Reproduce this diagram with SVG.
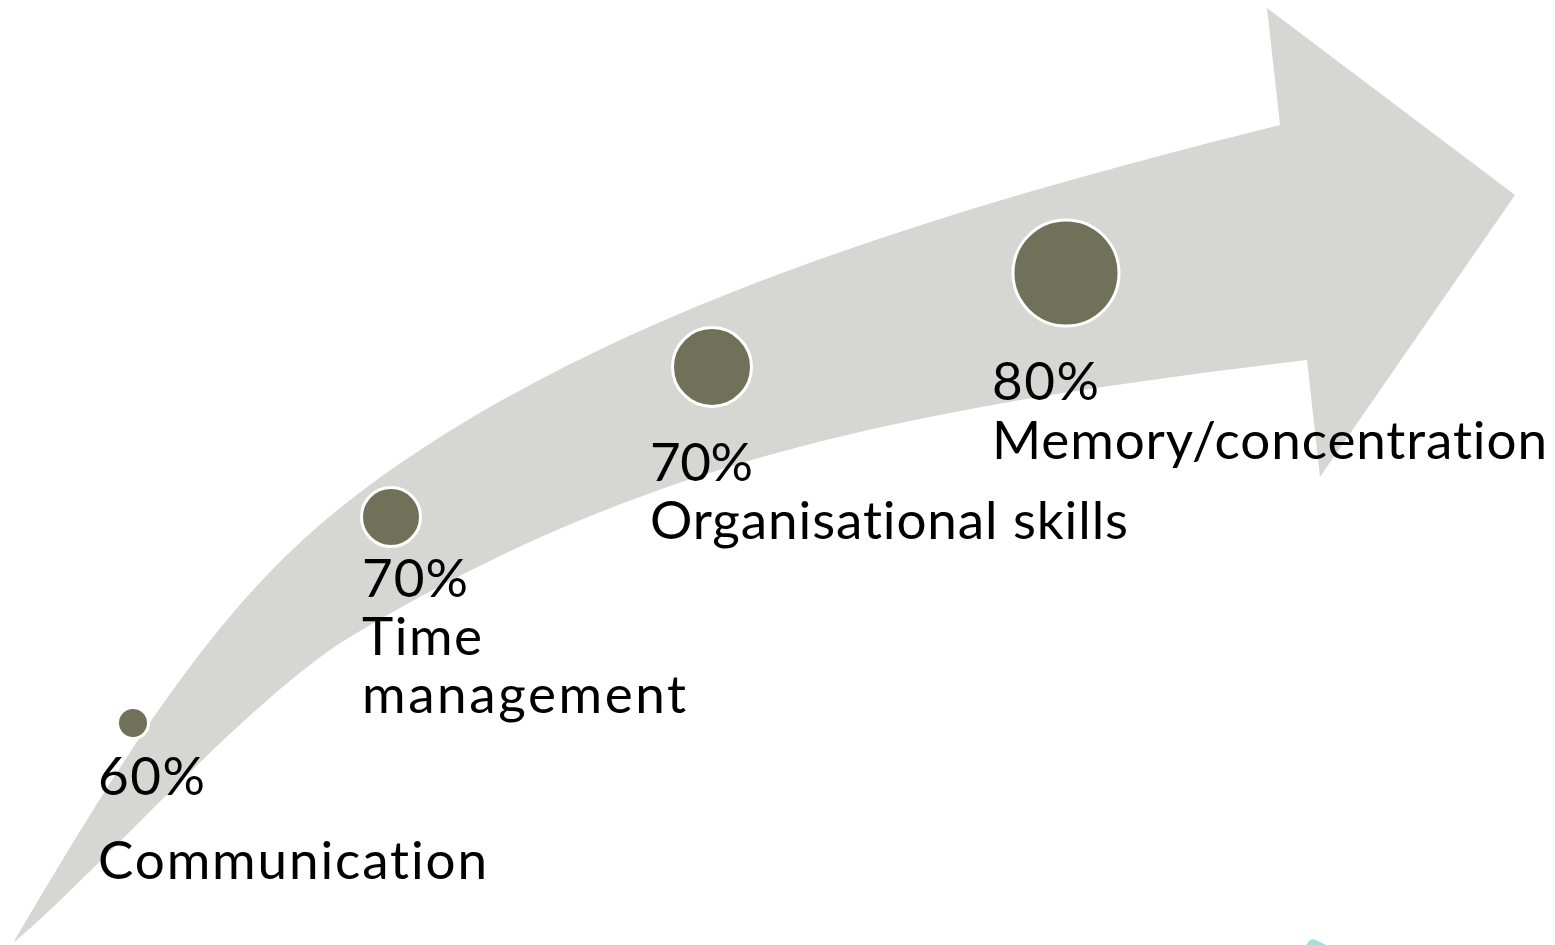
<svg xmlns="http://www.w3.org/2000/svg" width="1555" height="945" viewBox="0 0 1555 945">
  <style>
    .band { fill: #d6d7d2; }
    .dot { fill: #71715a; stroke: #ffffff; stroke-width: 3; }
    .label { font-family: Lato, "Noto Sans", "Liberation Sans", sans-serif; font-size: 53px; fill: #000000; font-variant-ligatures: none; font-feature-settings: "liga" 0, "clig" 0; }
  </style>
  <rect width="1555" height="945" fill="#ffffff"/>

  <!-- curved upward arrow -->
  <g id="arrow">
    <path class="band" d="M13,943
      C133,739 220,604 340,508
      C590,308 980,200 1280,125
      L1267,8 L1515,195 L1320,477 L1307,360
      C907,408 650,457 350,637
      C250,697 90,880 13,943 Z"/>
  </g>

  <!-- small shape peeking in at the bottom edge -->
  <path d="M1306,945 L1309,941 Q1312,938 1316,940 L1326,945 Z" fill="#a6dedd"/>

  <g id="connectors"></g>

  <g id="step1">
    <circle class="dot" cx="133" cy="723" r="15.5"/>
    <text class="label" x="98" y="795" textLength="107" lengthAdjust="spacing">60%</text>
    <text class="label" x="98" y="879" textLength="389" lengthAdjust="spacing">Communication</text>
  </g>

  <g id="step2">
    <circle class="dot" cx="391" cy="517" r="29.5"/>
    <text class="label" x="362" y="597" textLength="106" lengthAdjust="spacing">70%</text>
    <text class="label" x="362" y="655" textLength="120" lengthAdjust="spacing">Time</text>
    <text class="label" x="362" y="713" textLength="324" lengthAdjust="spacing">management</text>
  </g>

  <g id="step3">
    <circle class="dot" cx="712" cy="367" r="39.5"/>
    <text class="label" x="650" y="481" textLength="103" lengthAdjust="spacing">70%</text>
    <text class="label" x="650" y="539" textLength="478" lengthAdjust="spacing">Organisational skills</text>
  </g>

  <g id="step4">
    <circle class="dot" cx="1066" cy="273" r="53"/>
    <text class="label" x="992" y="400" textLength="107" lengthAdjust="spacing">80%</text>
    <text class="label" x="992" y="459" textLength="555" lengthAdjust="spacing">Memory/concentration</text>
  </g>
</svg>
